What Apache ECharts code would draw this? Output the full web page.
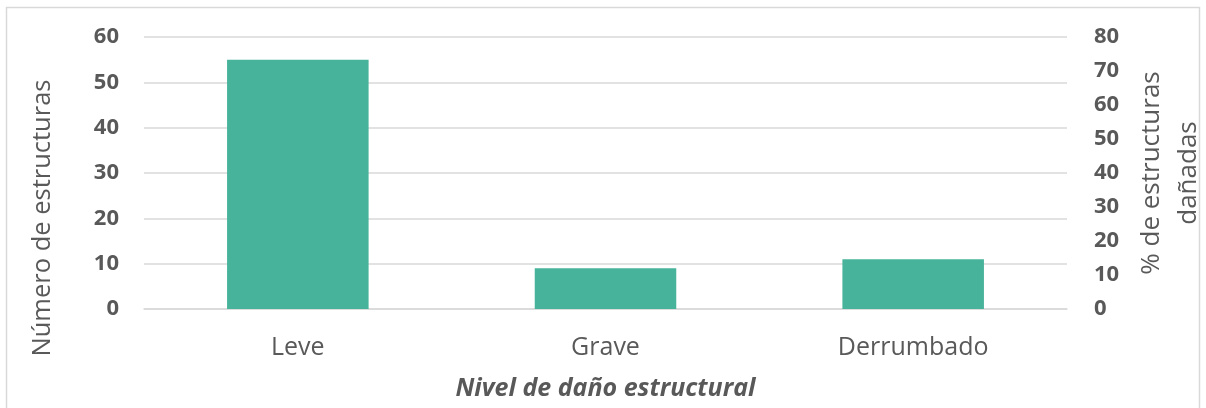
<!DOCTYPE html>
<html>
<head>
<meta charset="utf-8">
<script src="https://cdn.jsdelivr.net/npm/echarts@6/dist/echarts.min.js"></script>
<style>
  html, body { margin: 0; padding: 0; background: #fff; }
  #chart { width: 1206px; height: 408px; }
</style>
</head>
<body>
<div id="chart"></div>
<script>
// datos
const niveles = ['Leve', 'Grave', 'Derrumbado'];
const numEstructuras = [55, 9, 11];

const gris = '#595959';
const fuente = '"Open Sans", "Noto Sans", sans-serif';

var myChart = echarts.init(document.getElementById('chart'));
var option = {
  animation: false,
  textStyle: { fontFamily: fuente },
  graphic: [
    {
      type: 'rect',
      shape: { x: 6.5, y: 7.5, width: 1193, height: 420 },
      style: { fill: 'none', stroke: '#d9d9d9', lineWidth: 1.5 },
      silent: true
    }
  ],
  grid: { left: 144, right: 139, top: 37, bottom: 99, outerBoundsMode: 'none', containLabel: false },
  xAxis: {
    type: 'category',
    data: niveles,
    axisLine: { show: true, lineStyle: { color: '#d9d9d9', width: 1.5 } },
    axisTick: { show: false },
    axisLabel: { color: gris, fontSize: 25, margin: 26, fontFamily: fuente },
    name: 'Nivel de daño estructural',
    nameLocation: 'middle',
    nameGap: 67,
    nameTextStyle: { color: gris, fontSize: 25, fontWeight: 'bold', fontStyle: 'italic', fontFamily: fuente }
  },
  yAxis: [
    {
      type: 'value',
      min: 0,
      max: 60,
      interval: 10,
      axisLine: { show: false },
      axisTick: { show: false },
      splitLine: { lineStyle: { color: '#d9d9d9', width: 1.5 } },
      axisLabel: { color: gris, fontSize: 22, fontWeight: 'bold', margin: 25, fontFamily: fuente },
      name: 'Número de estructuras',
      nameLocation: 'middle',
      nameRotate: 90,
      nameGap: 88,
      nameTextStyle: { color: gris, fontSize: 25.5, fontFamily: fuente, padding: [0, 90, 0, 0] }
    },
    {
      type: 'value',
      position: 'right',
      min: 0,
      max: 80,
      interval: 10,
      axisLine: { show: false },
      axisTick: { show: false },
      splitLine: { show: false },
      axisLabel: { color: gris, fontSize: 22, fontWeight: 'bold', margin: 27, fontFamily: fuente },
      name: '% de estructuras\ndañadas',
      nameLocation: 'middle',
      nameRotate: 90,
      nameGap: 66,
      nameTextStyle: { color: gris, fontSize: 26, lineHeight: 37, fontFamily: fuente }
    }
  ],
  series: [
    {
      name: 'Número de estructuras',
      type: 'bar',
      yAxisIndex: 0,
      barWidth: '46%',
      itemStyle: { color: '#47b39a' },
      data: numEstructuras
    }
  ]
};
option && myChart.setOption(option);
</script>
</body>
</html>
